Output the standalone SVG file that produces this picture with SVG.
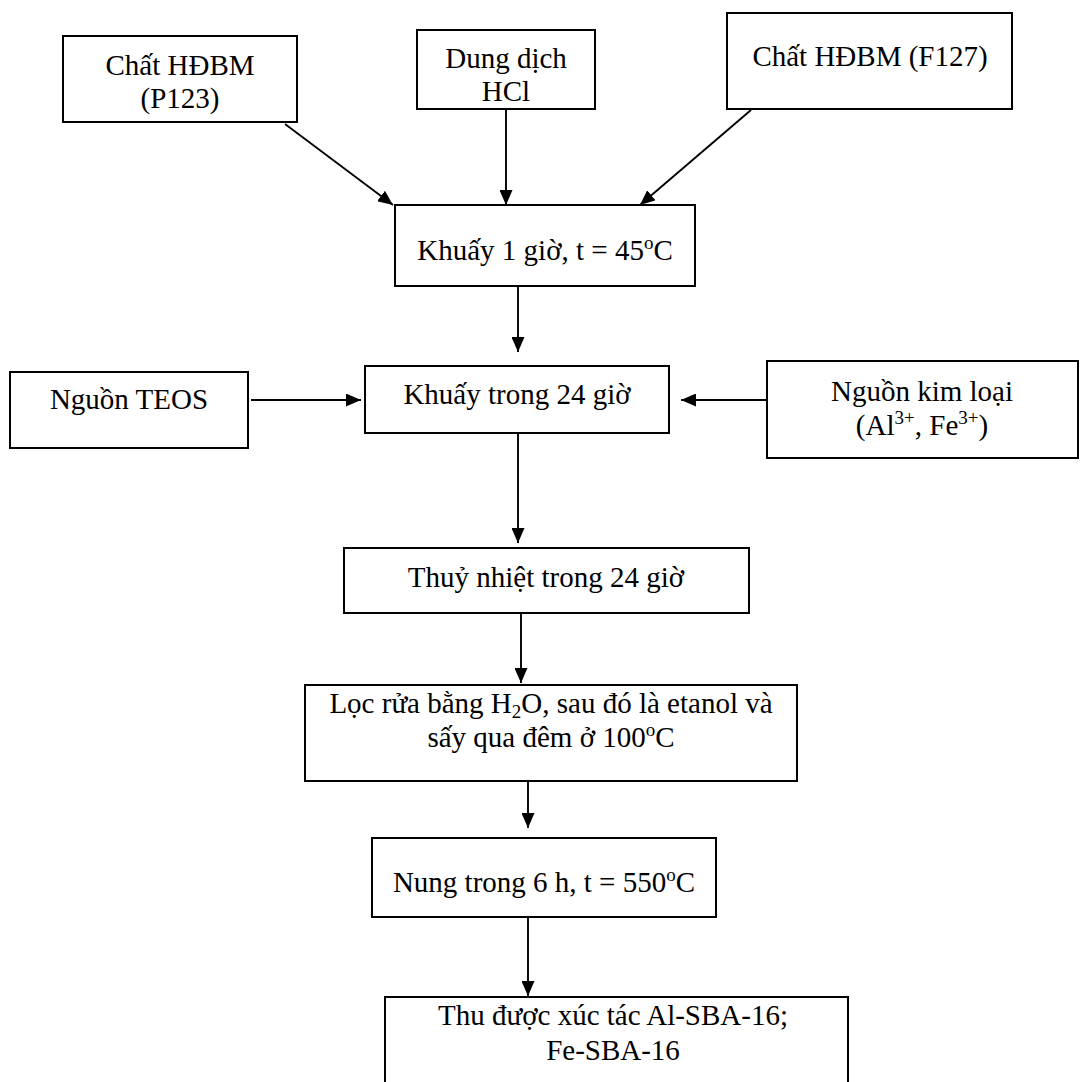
<svg xmlns="http://www.w3.org/2000/svg" width="1081" height="1082" viewBox="0 0 1081 1082">
<defs>
<style>
.box{fill:#fff;stroke:#000;stroke-width:2}
.t{font-family:"Liberation Serif","Times New Roman",serif;font-size:29px;fill:#000;text-anchor:middle}
.sup{font-size:19px}
.c line{stroke:#000;stroke-width:1.9;marker-end:url(#ah)}
</style>
<marker id="ah" markerUnits="userSpaceOnUse" markerWidth="15" markerHeight="13" refX="15" refY="6.5" orient="auto">
<path d="M0,0 L15,6.5 L0,13 z" fill="#000"/>
</marker>
</defs>
<rect width="1081" height="1082" fill="#fff"/>
<g id="connectors" class="c">
<line x1="285" y1="124" x2="393" y2="205"/>
<line x1="506" y1="109" x2="506" y2="205"/>
<line x1="751" y1="110" x2="640" y2="205"/>
<line x1="518" y1="286" x2="518" y2="352"/>
<line x1="251" y1="400" x2="361" y2="400"/>
<line x1="768" y1="400" x2="681" y2="400"/>
<line x1="518" y1="433" x2="518" y2="543"/>
<line x1="521" y1="613" x2="521" y2="683"/>
<line x1="528" y1="781" x2="528" y2="828"/>
<line x1="528" y1="917" x2="528" y2="996"/>
</g>
<g id="p123">
<rect class="box" x="63" y="36" width="234" height="86"/>
<text class="t" x="180" y="75">Chất HĐBM</text>
<text class="t" x="180" y="108">(P123)</text>
</g>
<g id="hcl">
<rect class="box" x="417" y="30" width="178" height="79"/>
<text class="t" x="506" y="68">Dung dịch</text>
<text class="t" x="506" y="101">HCl</text>
</g>
<g id="f127">
<rect class="box" x="727" y="13" width="285" height="96"/>
<text class="t" x="870" y="66">Chất HĐBM (F127)</text>
</g>
<g id="khuay1">
<rect class="box" x="395" y="205" width="300" height="81"/>
<text class="t" x="545" y="260">Khuấy 1 giờ, t = 45<tspan class="sup" dy="-11">o</tspan><tspan dy="11">C</tspan></text>
</g>
<g id="teos">
<rect class="box" x="10" y="372" width="238" height="76"/>
<text class="t" x="129" y="409">Nguồn TEOS</text>
</g>
<g id="khuay24">
<rect class="box" x="365" y="366" width="304" height="67"/>
<text class="t" x="517" y="404">Khuấy trong 24 giờ</text>
</g>
<g id="kimloai">
<rect class="box" x="767" y="361" width="311" height="97"/>
<text class="t" x="922" y="401">Nguồn kim loại</text>
<text class="t" x="922" y="435">(Al<tspan class="sup" dy="-11">3+</tspan><tspan dy="11">, Fe</tspan><tspan class="sup" dy="-11">3+</tspan><tspan dy="11">)</tspan></text>
</g>
<g id="thuynhiet">
<rect class="box" x="344" y="548" width="405" height="65"/>
<text class="t" x="546" y="587">Thuỷ nhiệt trong 24 giờ</text>
</g>
<g id="locrua">
<rect class="box" x="305" y="685" width="492" height="96"/>
<text class="t" x="551" y="713">Lọc rửa bằng H<tspan class="sup" dy="5">2</tspan><tspan dy="-5">O, sau đó là etanol và</tspan></text>
<text class="t" x="551" y="747">sấy qua đêm ở 100<tspan class="sup" dy="-11">o</tspan><tspan dy="11">C</tspan></text>
</g>
<g id="nung">
<rect class="box" x="372" y="838" width="344" height="79"/>
<text class="t" x="544" y="892">Nung trong 6 h, t = 550<tspan class="sup" dy="-11">o</tspan><tspan dy="11">C</tspan></text>
</g>
<g id="thuduoc">
<rect class="box" x="385" y="997" width="463" height="120"/>
<text class="t" x="613" y="1025">Thu được xúc tác Al-SBA-16;</text>
<text class="t" x="613" y="1060">Fe-SBA-16</text>
</g>
</svg>
